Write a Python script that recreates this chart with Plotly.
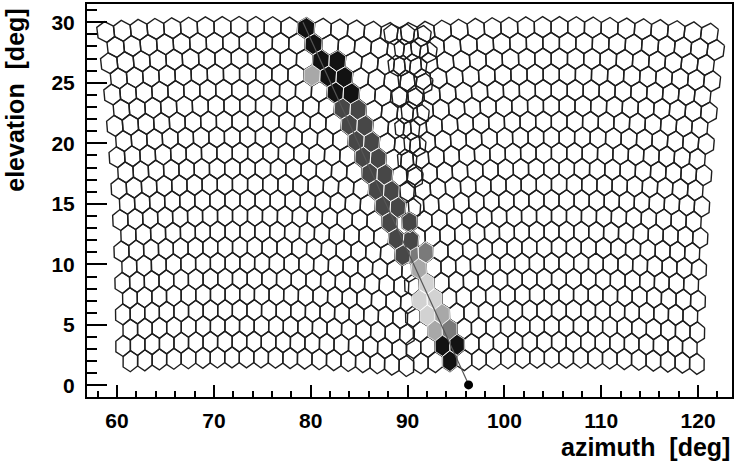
import numpy as np
import plotly.graph_objects as go

# ---------------- data ----------------
# camera geometry (two adjacent telescopes)
cam_center_az = [75.43, 105.25]   # pointing azimuth of each camera [deg]
cam_roll = [0.74, 0.0]            # small roll of each camera [deg]
cam_elev = 15.95                  # pointing elevation [deg]
n_rows = 22
n_cols = 20
pixel_fov = 1.5                   # pixel size [deg]

# triggered pixels: approximate centre (azimuth, elevation) and signal level (1..5)
hit_az = [79.4, 80.1, 81.0, 82.7, 80.1, 81.8, 83.3, 82.5, 84.2, 83.3, 84.9,
          84.1, 85.6, 84.8, 86.3, 85.4, 87.0, 86.3, 87.8, 87.0, 88.5, 87.7,
          89.0, 88.4, 89.8, 89.0, 90.5, 89.6, 91.1, 90.5, 91.8, 91.1, 92.5,
          91.8, 93.0, 92.5, 93.9, 93.0, 94.4, 93.7, 95.2, 94.4]
hit_el = [29.4, 28.2, 26.9, 26.9, 25.6, 25.6, 25.6, 24.4, 24.4, 22.9, 22.9,
          21.6, 21.6, 20.3, 20.3, 19.1, 19.1, 17.9, 17.9, 16.6, 16.6, 15.4,
          15.4, 14.0, 14.0, 12.6, 12.6, 11.3, 11.3, 10.3, 10.3, 8.9, 8.9,
          7.6, 7.6, 6.3, 6.3, 4.9, 4.9, 3.5, 3.5, 2.3]
hit_level = [5, 5, 5, 5, 2, 5, 5, 5, 5, 4, 4,
             4, 4, 4, 4, 4, 4, 4, 4, 4, 4, 4,
             4, 4, 4, 4, 4, 4, 3, 3, 2, 2, 1,
             1, 1, 1, 2, 2, 3, 5, 5, 5]
level_colors = {5: "#121212", 4: "#474747", 3: "#7a7a7a", 2: "#a8a8a8", 1: "#d2d2d2"}

# shower-detector-plane track and ground impact point
sdp_az = [96.35, 79.2]
sdp_el = [0.0, 30.0]
core_az = [96.3]
core_el = [0.05]

x_range = [56.9, 123.5]
y_range = [-0.95, 31.5]
x_ticks = [60, 70, 80, 90, 100, 110, 120]
y_ticks = [0, 5, 10, 15, 20, 25, 30]


# ---------------- geometry helpers ----------------
def local_to_azel(p_deg, q_deg, az0, el0, roll_deg):
    r = np.radians(roll_deg)
    p2 = p_deg * np.cos(r) + q_deg * np.sin(r)
    q2 = -p_deg * np.sin(r) + q_deg * np.cos(r)
    v = np.radians(q2)
    u = np.radians(p2) / np.cos(v)
    t = np.radians(el0)
    x = np.cos(v) * np.cos(u)
    y = np.cos(v) * np.sin(u)
    z = np.sin(v)
    X = x * np.cos(t) - z * np.sin(t)
    Z = x * np.sin(t) + z * np.cos(t)
    return az0 + np.degrees(np.arctan2(y, X)), np.degrees(np.arcsin(np.clip(Z, -1, 1)))


R = pixel_fov / np.sqrt(3)
dv = 1.5 * R
ang = np.radians(np.arange(7) * 60 + 30)

pix_poly = []
pix_center = []
for c, az0 in enumerate(cam_center_az):
    for i in range(n_rows):
        q_c = (i - (n_rows - 1) / 2) * dv
        shift = pixel_fov / 4 * (1 if i % 2 == 0 else -1)
        for j in range(n_cols):
            p_c = (j - (n_cols - 1) / 2) * pixel_fov + shift
            pp = p_c + R * np.cos(ang)
            qq = q_c + R * np.sin(ang)
            paz, pel = local_to_azel(pp, qq, az0, cam_elev, cam_roll[c])
            caz, cel = local_to_azel(p_c, q_c, az0, cam_elev, cam_roll[c])
            pix_poly.append((paz, pel))
            pix_center.append((caz, cel))
pix_center = np.array(pix_center)

fig = go.Figure()

# pixel outlines
ox, oy = [], []
for paz, pel in pix_poly:
    ox += list(paz) + [None]
    oy += list(pel) + [None]
fig.add_trace(go.Scatter(x=ox, y=oy, mode="lines",
                         line=dict(color="#1e1e1e", width=1.4),
                         hoverinfo="skip"))

# triggered pixels, grouped by level
groups = {}
for a, e, lv in zip(hit_az, hit_el, hit_level):
    d = (pix_center[:, 0] - a) ** 2 + (pix_center[:, 1] - e) ** 2
    k = int(np.argmin(d))
    groups.setdefault(lv, []).append(k)

for lv in sorted(groups):
    fx, fy = [], []
    for k in groups[lv]:
        paz, pel = pix_poly[k]
        fx += list(paz) + [None]
        fy += list(pel) + [None]
    fig.add_trace(go.Scatter(x=fx, y=fy, mode="lines", fill="toself",
                             fillcolor=level_colors[lv],
                             line=dict(color="#ffffff", width=0.8),
                             hoverinfo="skip"))

# track and impact point
fig.add_trace(go.Scatter(x=sdp_az, y=sdp_el, mode="lines",
                         line=dict(color="#555555", width=1.2), hoverinfo="skip"))
fig.add_trace(go.Scatter(x=core_az, y=core_el, mode="markers",
                         marker=dict(color="black", size=9), hoverinfo="skip"))

tickfont = dict(family="Liberation Sans, Arial, sans-serif", size=21,
                color="black", weight="bold")
fig.update_layout(
    width=736, height=468,
    margin=dict(l=87, r=3, t=2, b=71),
    paper_bgcolor="white", plot_bgcolor="white",
    showlegend=False,
    xaxis=dict(range=x_range, tickmode="array", tickvals=x_ticks,
               ticks="inside", ticklen=12, tickwidth=1.5, tickcolor="black",
               minor=dict(ticks="inside", ticklen=6, dtick=2, tick0=60,
                          tickwidth=1.5, tickcolor="black"),
               showgrid=False, zeroline=False, showline=True, linewidth=2,
               linecolor="black", mirror=True, tickfont=tickfont,
               ticklabelstandoff=4),
    yaxis=dict(range=y_range, tickmode="array", tickvals=y_ticks,
               ticks="inside", ticklen=20, tickwidth=1.5, tickcolor="black",
               minor=dict(ticks="inside", ticklen=10, dtick=1, tick0=0,
                          tickwidth=1.5, tickcolor="black"),
               showgrid=False, zeroline=False, showline=True, linewidth=2,
               linecolor="black", mirror=True, tickfont=tickfont,
               ticklabelstandoff=6),
    annotations=[
        dict(text="azimuth\u00a0\u00a0[deg]", xref="paper", yref="paper",
             x=1.0, y=-0.127, xanchor="right", yanchor="middle",
             showarrow=False,
             font=dict(family="Liberation Sans, Arial, sans-serif", size=25,
                       color="black", weight="bold")),
        dict(text="elevation\u00a0\u00a0[deg]", xref="paper", yref="paper",
             x=-0.1115, y=0.992, xanchor="center", yanchor="top",
             textangle=-90, showarrow=False,
             font=dict(family="Liberation Sans, Arial, sans-serif", size=25,
                       color="black", weight="bold")),
    ],
)

fig.write_html("out.html")
